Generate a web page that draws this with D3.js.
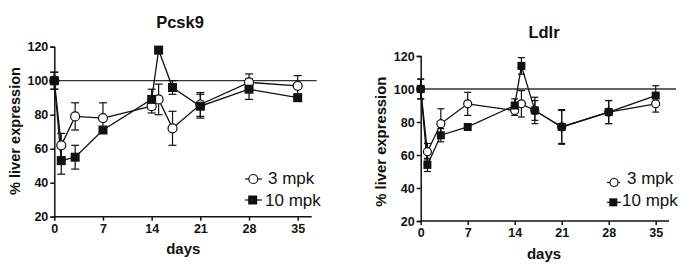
<!DOCTYPE html>
<html><head><meta charset="utf-8">
<script src="https://cdn.jsdelivr.net/npm/d3@7"></script>
<style>
body{margin:0;background:#fff;}
svg{display:block;font-family:"Liberation Sans",Arial,sans-serif;}
</style></head><body>
<svg id="c" width="688" height="266"></svg>
<script>
const days = [0, 1, 3, 7, 14, 15, 17, 21, 28, 35];
const xTicks = [0, 7, 14, 21, 28, 35];
const yTicks = [20, 40, 60, 80, 100, 120];
const seriesNames = ["3 mpk", "10 mpk"];
const panelTitles = ["Pcsk9", "Ldlr"];

const pcsk9_3mpk = [100, 62, 79, 78, 85, 89, 72, 86, 99, 97];
const pcsk9_3mpk_err = [5, 7, 8, 9, 4, 9, 10, 7, 5, 6];
const pcsk9_10mpk = [100, 53, 55, 71, 89, 118, 96, 85, 95, 90];
const pcsk9_10mpk_err = [5, 8, 7, 2, 6, 2, 4, 7, 6, 2];

const ldlr_3mpk = [100, 62, 79, 91, 87, 91, 87, 77, 86, 91];
const ldlr_3mpk_err = [6, 5, 9, 7, 3, 8, 6, 10, 7, 5];
const ldlr_10mpk = [100, 54, 72, 77, 90, 114, 87, 77, 86, 96];
const ldlr_10mpk_err = [6, 4, 4, 2, 4, 5, 8, 10.5, 7, 6];

const svg = d3.select("#c");
const ink = "#111";

function panel(cfg, s3, e3, s10, e10, title) {
  const x = d3.scaleLinear().domain([0, 35]).range([cfg.x0, cfg.x35]);
  const y = d3.scaleLinear().domain([20, 120]).range([cfg.yb, cfg.yt]);
  const g = svg.append("g");

  g.append("line").attr("x1", x(0)).attr("x2", cfg.refEnd)
    .attr("y1", y(100)).attr("y2", y(100))
    .attr("stroke", "#333").attr("stroke-width", 1.3);

  const yAx = g.append("g").attr("transform", `translate(${x(0)},0)`)
    .call(d3.axisLeft(y).tickValues(yTicks).tickSize(4).tickPadding(2));
  const xAx = g.append("g").attr("transform", `translate(0,${y(20)})`)
    .call(d3.axisBottom(x).tickValues(xTicks).tickSize(4).tickPadding(3));
  [yAx, xAx].forEach(a => {
    a.selectAll("path").attr("stroke", ink).attr("stroke-width", 1.5);
    a.selectAll("line").attr("stroke", ink).attr("stroke-width", 1.5);
    a.selectAll("text").attr("fill", ink).style("font-size", "12.5px")
      .style("font-weight", "bold").style("font-family", "'Liberation Sans',Arial,sans-serif");
  });
  xAx.select(".domain").attr("d", `M${x(0)},0H${cfg.axEnd}`);

  const series = [
    {v: s3, e: e3, open: true},
    {v: s10, e: e10, open: false}
  ];
  const line = d3.line().x((d, i) => x(days[i])).y(d => y(d));
  const cap = cfg.cap;

  series.forEach(s => {
    const eg = g.append("g").attr("stroke", ink).attr("stroke-width", 1.2);
    s.v.forEach((v, i) => {
      const cx = x(days[i]);
      eg.append("line").attr("x1", cx).attr("x2", cx).attr("y1", y(v - s.e[i])).attr("y2", y(v + s.e[i]));
      eg.append("line").attr("x1", cx - cap).attr("x2", cx + cap).attr("y1", y(v + s.e[i])).attr("y2", y(v + s.e[i]));
      eg.append("line").attr("x1", cx - cap).attr("x2", cx + cap).attr("y1", y(v - s.e[i])).attr("y2", y(v - s.e[i]));
    });
  });
  series.forEach(s => {
    g.append("path").datum(s.v).attr("d", line).attr("fill", "none")
      .attr("stroke", ink).attr("stroke-width", 1.3);
  });
  series.forEach(s => {
    s.v.forEach((v, i) => {
      const cx = x(days[i]), cy = y(v);
      if (s.open) {
        g.append("circle").attr("cx", cx).attr("cy", cy).attr("r", cfg.r)
          .attr("fill", "#fff").attr("stroke", ink).attr("stroke-width", 1.2);
      } else {
        g.append("rect").attr("x", cx - cfg.sq / 2).attr("y", cy - cfg.sq / 2)
          .attr("width", cfg.sq).attr("height", cfg.sq).attr("fill", ink);
      }
    });
  });

  g.append("text").attr("x", cfg.titleX).attr("y", cfg.titleY).attr("text-anchor", "middle")
    .attr("dominant-baseline", "central").style("font-size", "16.5px").style("font-weight", "bold")
    .attr("fill", ink).text(title);
  g.append("text").attr("x", cfg.daysX).attr("y", cfg.daysY).attr("text-anchor", "middle")
    .attr("dominant-baseline", "central").style("font-size", "15px").style("font-weight", "bold")
    .attr("fill", ink).text("days");
  g.append("text").attr("transform", `translate(${cfg.ylabX},${cfg.ylabY}) rotate(-90)`)
    .attr("text-anchor", "middle").attr("dominant-baseline", "central")
    .attr("textLength", cfg.ylabLen).attr("lengthAdjust", "spacingAndGlyphs")
    .style("font-size", "15px").style("font-weight", "bold").attr("fill", ink)
    .text("% liver expression");

  const L = cfg.leg;
  seriesNames.forEach((name, k) => {
    const row = L[k];
    g.append("line").attr("x1", row.l1).attr("x2", row.l2).attr("y1", row.my).attr("y2", row.my)
      .attr("stroke", ink).attr("stroke-width", 1.2);
    if (k === 0) {
      g.append("circle").attr("cx", row.mx).attr("cy", row.my).attr("r", cfg.r)
        .attr("fill", "#fff").attr("stroke", ink).attr("stroke-width", 1.2);
    } else {
      g.append("rect").attr("x", row.mx - cfg.sq / 2).attr("y", row.my - cfg.sq / 2)
        .attr("width", cfg.sq).attr("height", cfg.sq).attr("fill", ink);
    }
    g.append("text").attr("x", row.tx).attr("y", row.ty).attr("dominant-baseline", "central")
      .style("font-size", "17px").attr("fill", ink).text(name);
  });
}

panel({
  x0: 54.3, x35: 297.7, yb: 216.7, yt: 46.7, refEnd: 316.7, axEnd: 311.7,
  cap: 4, r: 4.5, sq: 9,
  titleX: 180, titleY: 21.7, daysX: 183.3, daysY: 248.3,
  ylabX: 14.5, ylabY: 131, ylabLen: 128,
  leg: [
    {l1: 245, l2: 262, mx: 253.3, my: 179, tx: 268, ty: 178.3},
    {l1: 245, l2: 262, mx: 252.7, my: 200, tx: 265, ty: 200}
  ]
}, pcsk9_3mpk, pcsk9_3mpk_err, pcsk9_10mpk, pcsk9_10mpk_err, panelTitles[0]);

panel({
  x0: 420.7, x35: 655.7, yb: 221, yt: 56, refEnd: 676, axEnd: 669,
  cap: 3.5, r: 4, sq: 8,
  titleX: 544, titleY: 31.7, daysX: 544, daysY: 253.3,
  ylabX: 380, ylabY: 141.7, ylabLen: 130,
  leg: [
    {l1: 607, l2: 620, mx: 614, my: 182.5, tx: 627, ty: 178.3},
    {l1: 607, l2: 621, mx: 613.3, my: 202.3, tx: 622, ty: 200}
  ]
}, ldlr_3mpk, ldlr_3mpk_err, ldlr_10mpk, ldlr_10mpk_err, panelTitles[1]);
</script>
</body></html>
